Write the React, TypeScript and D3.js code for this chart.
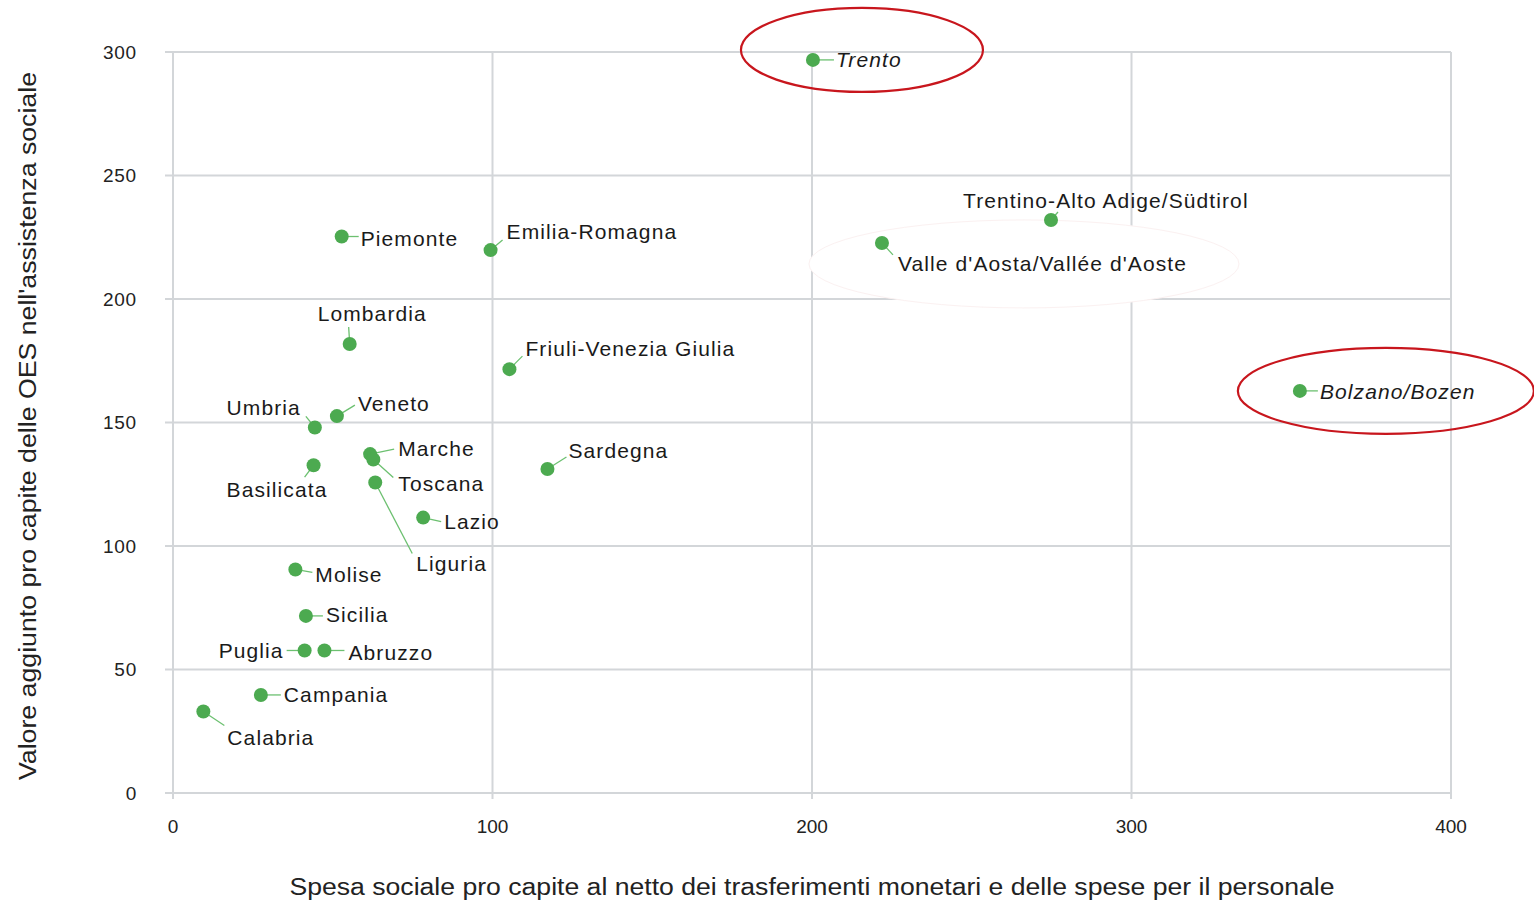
import { scaleLinear } from "d3";

const width = 1534;
const height = 902;
const margin = { left: 173, right: 83, top: 52, bottom: 109 };

// regions: spesa sociale (x) vs valore aggiunto OES (y)
const regions = [
  "Trento",
  "Trentino-Alto Adige/Südtirol",
  "Valle d'Aosta/Vallée d'Aoste",
  "Bolzano/Bozen",
  "Piemonte",
  "Emilia-Romagna",
  "Lombardia",
  "Friuli-Venezia Giulia",
  "Veneto",
  "Umbria",
  "Marche",
  "Toscana",
  "Basilicata",
  "Liguria",
  "Sardegna",
  "Lazio",
  "Molise",
  "Sicilia",
  "Puglia",
  "Abruzzo",
  "Campania",
  "Calabria",
];
const spesa = [200.3, 274.8, 221.9, 352.7, 52.8, 99.4, 55.3, 105.3, 51.3, 44.4, 61.7, 62.7, 44.0, 63.3, 117.2, 78.3, 38.3, 41.6, 41.2, 47.4, 27.5, 9.5];
const valore = [296.8, 232.0, 222.7, 162.8, 225.3, 219.8, 181.8, 171.6, 152.6, 148.0, 137.2, 135.0, 132.7, 125.7, 131.2, 111.5, 90.5, 71.7, 57.7, 57.7, 39.7, 33.0];

const xTicks = [0, 100, 200, 300, 400];
const yTicks = [0, 50, 100, 150, 200, 250, 300];
const italicLabels = ["Trento", "Bolzano/Bozen"];

// label placement in px relative to the dot: text offset, leader end, anchor
const labelPos: Record<string, [number, number, number, number, string]> = {
  Trento: [23, 0, 21, 0, "start"],
  "Trentino-Alto Adige/Südtirol": [-88, -19, 7, -8, "start"],
  "Valle d'Aosta/Vallée d'Aoste": [16, 21, 11, 12, "start"],
  "Bolzano/Bozen": [20, 1, 18, 0, "start"],
  Piemonte: [19, 2, 17, 0, "start"],
  "Emilia-Romagna": [16, -18, 12, -10, "start"],
  Lombardia: [-32, -30, -1, -17, "start"],
  "Friuli-Venezia Giulia": [16, -20, 13, -13, "start"],
  Veneto: [21, -12, 18, -11, "start"],
  Umbria: [-14, -20, -9, -11, "end"],
  Marche: [28, -5, 24, -5, "start"],
  Toscana: [25, 24, 20, 18, "start"],
  Basilicata: [-87, 24, -9, 12, "start"],
  Liguria: [41, 81, 37, 71, "start"],
  Sardegna: [21, -18, 19, -12, "start"],
  Lazio: [21, 4, 18, 4, "start"],
  Molise: [20, 5, 17, 3, "start"],
  Sicilia: [20, -1, 17, 0, "start"],
  Puglia: [-21, 0, -18, 0, "end"],
  Abruzzo: [24, 2, 20, 0, "start"],
  Campania: [23, 0, 20, 0, "start"],
  Calabria: [24, 26, 21, 14, "start"],
};

const font = "'Liberation Sans', Arial, Helvetica, sans-serif";
const green = "#4caa50";
const grid = "#d3d6d9";
const red = "#c8161d";

export default function App() {
  const x = scaleLinear().domain([0, 400]).range([margin.left, width - margin.right]);
  const y = scaleLinear().domain([0, 300]).range([height - margin.bottom, margin.top]);

  const points = regions.map((name, i) => ({ name, px: x(spesa[i]), py: y(valore[i]) }));
  const find = (n: string) => points.find((p) => p.name === n)!;
  const trento = find("Trento");
  const bolzano = find("Bolzano/Bozen");
  const valle = find("Valle d'Aosta/Vallée d'Aoste");

  return (
    <svg
      width={width}
      height={height}
      style={{ position: "absolute", left: 0, top: 0, background: "#fff" }}
      fontFamily={font}
    >
      {/* grid */}
      {yTicks.map((t) => (
        <line key={"gy" + t} x1={x(0) - 8} x2={x(400)} y1={y(t)} y2={y(t)} stroke={grid} strokeWidth={2} />
      ))}
      {xTicks.map((t) => (
        <line key={"gx" + t} x1={x(t)} x2={x(t)} y1={y(300)} y2={y(0) + 6} stroke={grid} strokeWidth={2} />
      ))}

      {/* white highlight behind Valle d'Aosta */}
      <ellipse cx={valle.px + 142} cy={valle.py + 21} rx={215} ry={44} fill="#fff" stroke="#fbf1f1" strokeWidth={1} />

      {/* tick labels */}
      {yTicks.map((t) => (
        <text key={"ty" + t} x={137} y={y(t)} dy="0.35em" textAnchor="end" fontSize={19} fill="#222" letterSpacing={0.8}>
          {t}
        </text>
      ))}
      {xTicks.map((t) => (
        <text key={"tx" + t} x={x(t)} y={826} dy="0.35em" textAnchor="middle" fontSize={19} fill="#222">
          {t}
        </text>
      ))}

      {/* axis titles */}
      <text
        x={812}
        y={887}
        dy="0.35em"
        textAnchor="middle"
        fontSize={23}
        fill="#222"
        textLength={1045}
        lengthAdjust="spacingAndGlyphs"
      >
        Spesa sociale pro capite al netto dei trasferimenti monetari e delle spese per il personale
      </text>
      <text
        transform={`translate(28,${426}) rotate(-90)`}
        dy="0.35em"
        textAnchor="middle"
        fontSize={23}
        fill="#222"
        textLength={708}
        lengthAdjust="spacingAndGlyphs"
      >
        Valore aggiunto pro capite delle OES nell'assistenza sociale
      </text>

      {/* leaders */}
      {points.map((p) => {
        const l = labelPos[p.name];
        return (
          <line key={"l" + p.name} x1={p.px} y1={p.py} x2={p.px + l[2]} y2={p.py + l[3]} stroke="#6cc070" strokeWidth={1.3} />
        );
      })}

      {/* dots */}
      {points.map((p) => (
        <circle key={"c" + p.name} cx={p.px} cy={p.py} r={7} fill={green} />
      ))}

      {/* labels */}
      {points.map((p) => {
        const l = labelPos[p.name];
        return (
          <text
            key={"t" + p.name}
            x={p.px + l[0]}
            y={p.py + l[1]}
            dy="0.35em"
            textAnchor={l[4]}
            fontSize={21}
            letterSpacing={1.1}
            fontStyle={italicLabels.includes(p.name) ? "italic" : "normal"}
            fill="#1a1a1a"
          >
            {p.name}
          </text>
        );
      })}

      {/* red highlight ellipses */}
      <ellipse cx={trento.px + 49} cy={trento.py - 10} rx={121} ry={42} fill="none" stroke={red} strokeWidth={2.2} />
      <ellipse cx={bolzano.px + 86} cy={bolzano.py} rx={148} ry={43} fill="none" stroke={red} strokeWidth={2.2} />
    </svg>
  );
}
